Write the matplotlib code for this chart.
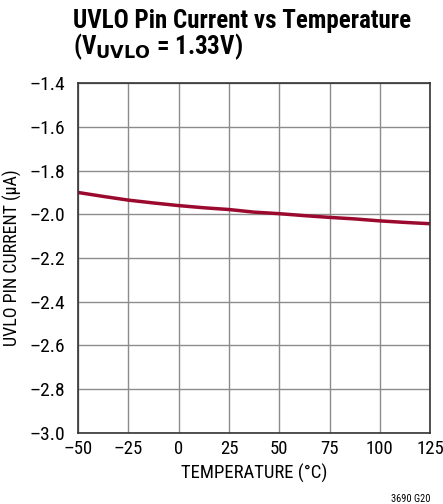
import matplotlib
matplotlib.use("Agg")
import matplotlib.pyplot as plt
from matplotlib import font_manager

names = {f.name for f in font_manager.fontManager.ttflist}
narrow = [n for n in ['Roboto Condensed', 'Liberation Sans Narrow', 'Open Sans Condensed', 'DejaVu Sans Condensed'] if n in names]
fam = narrow[:1] + ['Liberation Sans', 'DejaVu Sans']
plt.rcParams['font.family'] = fam
is_narrow = bool(narrow)

temp = [-50, -37.5, -25, -12.5, 0, 12.5, 25, 37.5, 50, 62.5, 75, 87.5, 100, 112.5, 125]
current = [-1.900, -1.918, -1.935, -1.948, -1.960, -1.970, -1.978, -1.990, -1.997, -2.006, -2.014, -2.021, -2.030, -2.037, -2.043]

xticks = [-50, -25, 0, 25, 50, 75, 100, 125]
yticks = [-3.0, -2.8, -2.6, -2.4, -2.2, -2.0, -1.8, -1.6, -1.4]

fig = plt.figure(figsize=(4.43, 5.04), dpi=100)
ax = fig.add_axes([0.176, 0.141, 0.795, 0.694])

ax.plot(temp, current, color='#9b0a2e', lw=2.5, solid_capstyle='butt')

ax.set_xlim(-50, 125)
ax.set_ylim(-3.0, -1.4)
ax.set_xticks(xticks)
ax.set_yticks(yticks)
ax.set_xticklabels([str(t).replace('-', '\u2013') for t in xticks])
ax.set_yticklabels([f"{t:.1f}".replace('-', '\u2013') for t in yticks])
tsize = 14 if is_narrow else 12
ax.tick_params(axis='x', length=0, labelsize=tsize - 0.5, pad=5)
ax.tick_params(axis='y', length=0, labelsize=tsize, pad=9)
ax.grid(True, color='#8c8c8c', lw=1)
for s in ax.spines.values():
    s.set_color('#333333')
    s.set_linewidth(1.2)

ax.set_xlabel('TEMPERATURE (°C)', fontsize=tsize - 0.5, labelpad=4)
ax.set_ylabel('UVLO PIN CURRENT (µA)', fontsize=tsize - 1, labelpad=6)

title_size = 18 if is_narrow else 15.5
fig.text(0.165, 0.945, 'UVLO Pin Current vs Temperature', fontsize=title_size, fontweight='bold')
fig.text(0.165, 0.893, r'(V$_{\mathbf{UVLO}}$ = 1.33V)', fontsize=title_size, fontweight='bold')
fig.text(0.971, 0.004, '3690 G20', fontsize=7.5, ha='right')

fig.savefig('out.png', dpi=100)
